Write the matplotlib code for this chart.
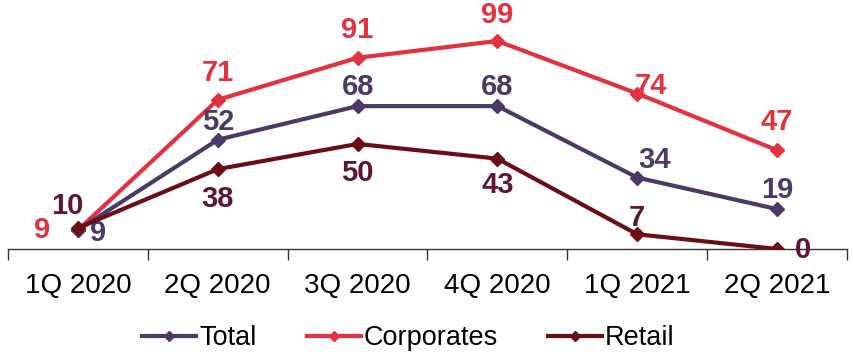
import matplotlib
matplotlib.use("Agg")
import matplotlib.pyplot as plt

categories = ["1Q 2020", "2Q 2020", "3Q 2020", "4Q 2020", "1Q 2021", "2Q 2021"]
total = [9, 52, 68, 68, 34, 19]
corporates = [9, 71, 91, 99, 74, 47]
retail = [10, 38, 50, 43, 7, 0]

c_total = "#4B3A66"
c_corp = "#E2313F"
c_retail = "#6A0D17"

plt.rcParams['font.family'] = ['Liberation Sans', 'DejaVu Sans']

W, H = 854, 355
fig = plt.figure(figsize=(W / 100, H / 100), dpi=100)
ax = fig.add_axes([8 / W, (H - 249) / H, (847 - 8) / W, 249 / H])

x = list(range(len(categories)))
ax.plot(x, corporates, color=c_corp, lw=3, marker="D", ms=7, label="Corporates", zorder=3)
ax.plot(x, total, color=c_total, lw=3, marker="D", ms=7, label="Total", zorder=4)
ax.plot(x, retail, color=c_retail, lw=3, marker="D", ms=7, label="Retail", zorder=5)

ax.set_xlim(-0.5, 5.5)
ax.set_ylim(0, 118.5)

lab_kw = dict(textcoords="offset pixels", ha="center", va="center",
              fontsize=21, fontweight="bold")
corp_off = [(-36, 0), (0, 27), (0, 28), (0, 26), (14, 8), (0, 28)]
total_off = [(20, -3), (0, 18), (0, 19), (0, 19), (17, 18), (0, 19)]
retail_off = [(-11, 22), (0, -30), (0, -29), (0, -26), (0, 16), (26, -1)]
for i in x:
    ax.annotate(str(corporates[i]), (i, corporates[i]), xytext=corp_off[i], color=c_corp, **lab_kw)
    ax.annotate(str(total[i]), (i, total[i]), xytext=total_off[i], color=c_total, **lab_kw)
    ax.annotate(str(retail[i]), (i, retail[i]), xytext=retail_off[i], color="#5E1636", **lab_kw)

for s in ["top", "right", "left"]:
    ax.spines[s].set_visible(False)
ax.spines["bottom"].set_color("#333333")
ax.spines["bottom"].set_linewidth(1)
ax.set_yticks([])
ax.set_xticks([i - 0.5 for i in range(len(categories) + 1)])
ax.set_xticklabels([])
ax.set_xticks(x, minor=True)
ax.set_xticklabels(categories, minor=True, fontsize=20)
ax.tick_params(axis="x", which="major", length=8, width=1, color="#333333", direction="out")
ax.tick_params(axis="x", which="minor", length=0, pad=17)

handles, labels = ax.get_legend_handles_labels()
order = [1, 0, 2]
fig.legend([handles[i] for i in order], [labels[i] for i in order],
           loc="center", bbox_to_anchor=(0.478, (H - 338) / H), ncol=3, frameon=False,
           fontsize=19.5, handlelength=2.0, handletextpad=0.1, columnspacing=1.85,
           markerscale=0.8)

fig.savefig("out.png", dpi=100)
